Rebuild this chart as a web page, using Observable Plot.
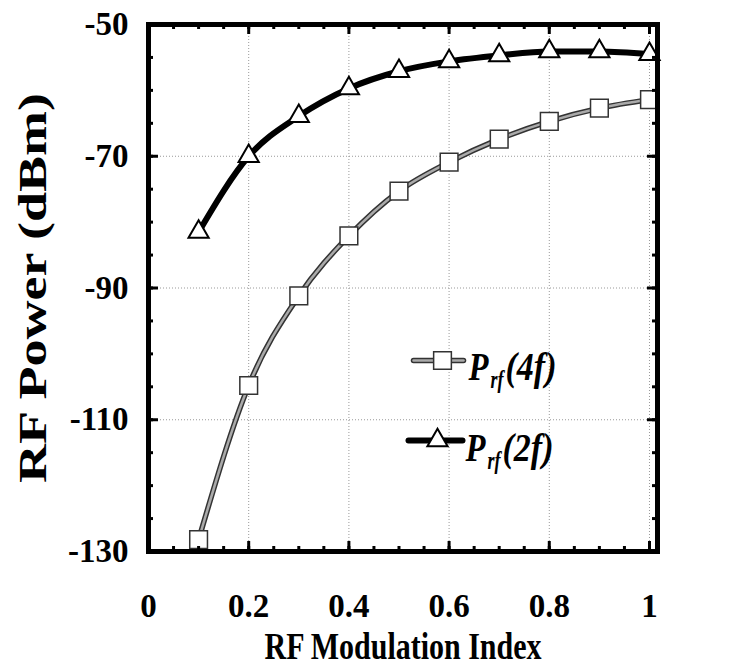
<!DOCTYPE html>
<html><head><meta charset="utf-8">
<script src="https://cdn.jsdelivr.net/npm/d3@7"></script>
<script src="https://cdn.jsdelivr.net/npm/@observablehq/plot@0.6"></script>
<style>body{margin:0;background:#fff}</style>
</head><body><div id="chart"></div>
<script>
// ---- data ----
const modIndex = [0.1, 0.2, 0.3, 0.4, 0.5, 0.6, 0.7, 0.8, 0.9, 1.0];
const p4f = [-128.2, -104.8, -91.2, -82.1, -75.3, -70.9, -67.4, -64.7, -62.7, -61.4];
const p2f = [-81.5, -70.0, -63.9, -59.7, -57.1, -55.6, -54.7, -54.1, -54.1, -54.5];
const xTicks = [0, 0.2, 0.4, 0.6, 0.8, 1];
const xTickLabels = ["0", "0.2", "0.4", "0.6", "0.8", "1"];
const yTicks = [-130, -110, -90, -70, -50];
const yTickLabels = ["-130", "-110", "-90", "-70", "-50"];
const xGrid = [0.2, 0.4, 0.6, 0.8, 1];
const yGrid = [-110, -90, -70];
const xTitle = "RF Modulation Index";
const yTitle = "RF Power (dBm)";
const seriesKeys = ["(4f)", "(2f)"];

const s4 = modIndex.map((x, i) => ({x, y: p4f[i]}));
const s2 = modIndex.map((x, i) => ({x, y: p2f[i]}));
const xMinor = d3.range(1, 21).map(i => i * 0.05);
const yMinor = d3.range(0, 17).map(i => -130 + i * 5);

const W = 739, H = 668;
const mL = 148, mR = 82, mT = 24, mB = 117;
const pw = W - mL - mR, ph = H - mT - mB;
const font = "'Liberation Serif', 'Times New Roman', serif";
const line = {draw(ctx, l) { ctx.moveTo(0, 0); ctx.lineTo(0, -l); }};

const legendMarks = (dx, dy, len, mdx, tdx, base, kind, key) => {
  const m = [];
  if (kind === "4f") {
    m.push(Plot.vector([0], {frameAnchor: "top-left", dx, dy, length: len, rotate: 90, anchor: "start", shape: line, stroke: "#333", strokeWidth: 5.5}));
    m.push(Plot.vector([0], {frameAnchor: "top-left", dx, dy, length: len, rotate: 90, anchor: "start", shape: line, stroke: "#aaa", strokeWidth: 2.5}));
    m.push(Plot.dot([0], {frameAnchor: "top-left", dx: mdx, dy, symbol: "square", r: 10, fill: "white", stroke: "#333", strokeWidth: 1.5}));
  } else {
    m.push(Plot.vector([0], {frameAnchor: "top-left", dx, dy, length: len, rotate: 90, anchor: "start", shape: line, stroke: "black", strokeWidth: 6}));
    m.push(Plot.dot([0], {frameAnchor: "top-left", dx: mdx, dy, symbol: "triangle", r: 7.5, fill: "white", stroke: "black", strokeWidth: 2}));
  }
  const t = {frameAnchor: "top-left", textAnchor: "start", lineAnchor: "bottom", fontWeight: "bold", fontStyle: "italic"};
  m.push(Plot.text(["P"], {...t, dx: tdx, dy: base, fontSize: 40}));
  m.push(Plot.text(["rf"], {...t, dx: tdx + 22, dy: base + 8, fontSize: 25}));
  m.push(Plot.text([key], {...t, dx: tdx + 37, dy: base, fontSize: 40}));
  return m;
};

const chart = Plot.plot({
  width: W, height: H,
  marginLeft: mL, marginRight: mR, marginTop: mT, marginBottom: mB,
  style: {fontFamily: font, background: "white", color: "black"},
  x: {domain: [0, 1.016], axis: null},
  y: {domain: [-130, -50], axis: null},
  marks: [
    Plot.gridX(xGrid, {stroke: "#999", strokeOpacity: 1, strokeWidth: 1, strokeDasharray: "1,2"}),
    Plot.gridY(yGrid, {stroke: "#999", strokeOpacity: 1, strokeWidth: 1, strokeDasharray: "1,2"}),
    Plot.line(s4, {x: "x", y: "y", curve: "monotone-x", stroke: "#333", strokeWidth: 5.5}),
    Plot.line(s4, {x: "x", y: "y", curve: "monotone-x", stroke: "#aaa", strokeWidth: 2.5}),
    Plot.line(s2, {x: "x", y: "y", curve: "monotone-x", stroke: "black", strokeWidth: 6}),
    Plot.dot(s4, {x: "x", y: "y", symbol: "square", r: 10, fill: "white", stroke: "#333", strokeWidth: 1.5}),
    Plot.dot(s2, {x: "x", y: "y", symbol: "triangle", r: 7.5, fill: "white", stroke: "black", strokeWidth: 2}),
    // inward ticks on all four sides
    Plot.tickX(xMinor, {x: d => d, insetTop: ph - 5, stroke: "black", strokeWidth: 3}),
    Plot.tickX(xMinor, {x: d => d, insetBottom: ph - 5, stroke: "black", strokeWidth: 3}),
    Plot.tickX(xTicks, {x: d => d, insetTop: ph - 10, stroke: "black", strokeWidth: 3}),
    Plot.tickX(xTicks, {x: d => d, insetBottom: ph - 10, stroke: "black", strokeWidth: 3}),
    Plot.tickY(yMinor, {y: d => d, insetRight: pw - 5, stroke: "black", strokeWidth: 3}),
    Plot.tickY(yMinor, {y: d => d, insetLeft: pw - 5, stroke: "black", strokeWidth: 3}),
    Plot.tickY(yTicks, {y: d => d, insetRight: pw - 10, stroke: "black", strokeWidth: 3}),
    Plot.tickY(yTicks, {y: d => d, insetLeft: pw - 10, stroke: "black", strokeWidth: 3}),
    Plot.frame({stroke: "black", strokeWidth: 5}),
    Plot.axisX(xTicks, {anchor: "bottom", tickSize: 0, tickPadding: 42, fontSize: 33, fontWeight: "bold", tickFormat: d => xTickLabels[xTicks.indexOf(d)], label: null}),
    Plot.axisY(yTicks, {anchor: "left", tickSize: 0, tickPadding: 20, fontSize: 33, fontWeight: "bold", tickFormat: d => yTickLabels[yTicks.indexOf(d)], label: null}),
    Plot.text([xTitle], {frameAnchor: "bottom", lineAnchor: "middle", textAnchor: "middle", dy: 95, fontSize: 38, fontWeight: "bold"}),
    Plot.text([yTitle], {frameAnchor: "left", lineAnchor: "middle", textAnchor: "middle", dx: -115, rotate: -90, fontSize: 40, fontWeight: "bold"}),
    ...legendMarks(265, 336, 50, 294, 320, 355, "4f", seriesKeys[0]),
    ...legendMarks(260, 416, 54, 289, 317, 436, "2f", seriesKeys[1])
  ]
});
// condense the tall titles / legend labels horizontally to match the reference proportions
const fit = (content, len) => d3.select(chart).selectAll("text")
  .filter(function () { return this.textContent === content; })
  .attr("textLength", len).attr("lengthAdjust", "spacingAndGlyphs");
fit(xTitle, 277);
fit(yTitle, 390);
fit("P", 20);
fit("rf", 13);
fit(seriesKeys[0], 51);
fit(seriesKeys[1], 51);
document.getElementById("chart").appendChild(chart);
</script>
</body></html>
